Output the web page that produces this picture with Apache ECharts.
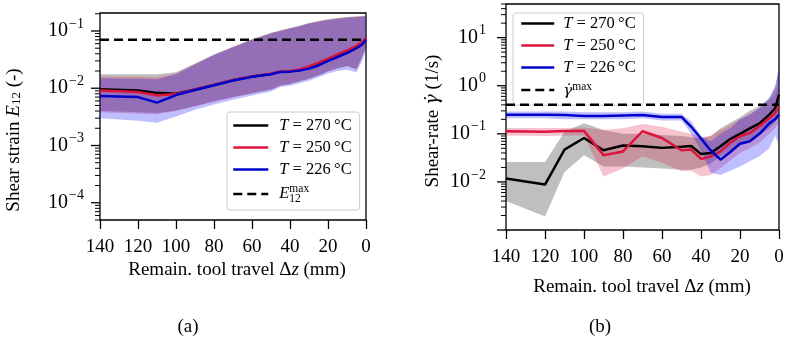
<!DOCTYPE html>
<html><head><meta charset="utf-8">
<script src="https://cdn.jsdelivr.net/npm/echarts@6/dist/echarts.min.js"></script>
<style>html,body{margin:0;padding:0;background:#fff}#c{width:789px;height:340px}</style>
</head><body><div id="c"></div>
<script>
// ---- data ----
const X = [140,120,110,100,90,80,70,60,50,45,40,35,30,25,20,15,10,5,2,0];
// (a) shear strain E12
const strainMean270 = [0.0096,0.0091,0.0083,0.0080,0.0095,0.0114,0.0138,0.0160,0.0178,0.0195,0.0197,0.0208,0.0230,0.0270,0.0320,0.0380,0.0440,0.0530,0.0620,0.0740];
const strainMean250 = [0.0091,0.0086,0.0075,0.0079,0.0095,0.0115,0.0139,0.0161,0.0180,0.0197,0.0199,0.0212,0.0240,0.0280,0.0330,0.0390,0.0460,0.0550,0.0640,0.0750];
const strainMean226 = [0.0073,0.0070,0.0056,0.0076,0.0093,0.0113,0.0136,0.0158,0.0176,0.0193,0.0195,0.0203,0.0220,0.0250,0.0300,0.0350,0.0410,0.0500,0.0580,0.0700];
const strainHi270 = [0.0176,0.0176,0.0176,0.0190,0.027,0.039,0.053,0.072,0.093,0.103,0.113,0.124,0.138,0.150,0.160,0.168,0.175,0.180,0.183,0.186];
const strainLo270 = [0.0040,0.0038,0.0037,0.0041,0.0049,0.0059,0.0070,0.0082,0.0095,0.0112,0.0119,0.0132,0.0147,0.0168,0.0198,0.0222,0.0245,0.0215,0.0360,0.0520];
const strainHi250 = [0.0160,0.0158,0.0155,0.0180,0.0265,0.0385,0.0525,0.071,0.092,0.102,0.112,0.122,0.137,0.148,0.158,0.166,0.173,0.178,0.181,0.184];
const strainLo250 = [0.0038,0.0036,0.0035,0.0040,0.0048,0.0058,0.0069,0.0081,0.0094,0.0111,0.0118,0.0131,0.0146,0.0166,0.0196,0.0221,0.0243,0.0213,0.0355,0.0510];
const strainHi226 = [0.0149,0.0147,0.0143,0.0175,0.026,0.038,0.052,0.070,0.090,0.100,0.110,0.120,0.135,0.145,0.155,0.162,0.170,0.175,0.178,0.180];
const strainLo226 = [0.0030,0.0027,0.0025,0.0032,0.0042,0.0052,0.0063,0.0075,0.0088,0.0105,0.0110,0.0122,0.0135,0.0155,0.0180,0.0200,0.0210,0.0190,0.0300,0.0450];
const strainMax = 0.07;
// (b) shear rate
const rateMean270 = [0.0118,0.0088,0.047,0.082,0.0455,0.057,0.055,0.051,0.054,0.056,0.038,0.040,0.055,0.078,0.100,0.130,0.165,0.250,0.340,0.650];
const rateLo270 = [0.0040,0.0019,0.016,0.036,0.021,0.021,0.020,0.019,0.018,0.018,0.020,0.024,0.034,0.045,0.060,0.075,0.095,0.130,0.170,0.280];
const rateHi270 = [0.026,0.026,0.110,0.165,0.120,0.100,0.100,0.095,0.090,0.085,0.080,0.090,0.130,0.170,0.220,0.300,0.380,0.550,0.900,2.200];
const rateMean250 = [0.113,0.110,0.115,0.115,0.036,0.043,0.113,0.082,0.0455,0.047,0.030,0.034,0.043,0.065,0.089,0.104,0.144,0.210,0.270,0.370];
const rateLo250 = [0.092,0.090,0.092,0.092,0.013,0.019,0.034,0.025,0.0166,0.017,0.013,0.014,0.0195,0.028,0.040,0.050,0.065,0.100,0.130,0.170];
const rateHi250 = [0.132,0.132,0.132,0.135,0.120,0.130,0.160,0.140,0.110,0.100,0.085,0.090,0.120,0.150,0.200,0.260,0.330,0.500,0.700,1.200];
const rateMean226 = [0.250,0.250,0.245,0.235,0.235,0.240,0.245,0.224,0.224,0.140,0.080,0.045,0.029,0.042,0.062,0.070,0.100,0.165,0.200,0.250];
const rateLo226 = [0.21,0.21,0.20,0.20,0.20,0.20,0.21,0.19,0.19,0.10,0.045,0.0155,0.014,0.017,0.021,0.027,0.034,0.050,0.090,0.060];
const rateHi226 = [0.29,0.29,0.29,0.28,0.28,0.28,0.29,0.26,0.26,0.18,0.09,0.07,0.10,0.13,0.20,0.25,0.35,0.55,1.00,2.50];
const rateMax = 0.4;

// ---- styling ----
const FONT = 'Liberation Serif';
const GFONT = 'DejaVu Serif';
const C270 = '#000000', C250 = '#dc143c', C226 = '#0000cd';
const F270 = 'rgba(0,0,0,0.25)', F250 = 'rgba(220,20,60,0.25)', F226 = 'rgba(0,0,255,0.25)';
const yRange = [[5e-5, 0.206], [1e-3, 50]];

function logTicks(min, max) {
  const out = [];
  for (let e = -6; e <= 3; e++) for (let m = 1; m <= 9; m++) {
    const v = m * Math.pow(10, e);
    if (v >= min * 0.999 && v <= max * 1.001) out.push([140, v, m === 1 ? 1 : 0]);
  }
  return out;
}
function band(g, lo, hi, color) {
  return {type:'custom', xAxisIndex:g, yAxisIndex:g, silent:true, clip:true, z:2,
    data:[[X[0], hi[0]]],
    renderItem:(p, api) => {
      const pts = [];
      for (let i = 0; i < X.length; i++) pts.push(api.coord([X[i], hi[i]]));
      for (let i = X.length - 1; i >= 0; i--) pts.push(api.coord([X[i], lo[i]]));
      return {type:'polygon', shape:{points:pts}, style:{fill:color}};
    }};
}
function line(name, g, ys, color) {
  return {type:'line', name, xAxisIndex:g, yAxisIndex:g, symbol:'none', z:3,
    data: X.map((x,i)=>[x, ys[i]]), lineStyle:{color, width:2.5}, itemStyle:{color}};
}
function dashed(name, g, v) {
  return {type:'line', name, xAxisIndex:g, yAxisIndex:g, symbol:'none', z:4,
    data:[[X[0], v],[X[X.length-1], v]], lineStyle:{color:'#000', width:2.5, type:[9,5]}, itemStyle:{color:'#000'}};
}
function ticks(g) {
  return {type:'custom', xAxisIndex:g, yAxisIndex:g, silent:true, clip:false, z:5,
    encode:{x:0, y:1}, data: logTicks(yRange[g][0], yRange[g][1]),
    renderItem:(p, api) => {
      const pt = api.coord([api.value(0), api.value(1)]);
      const len = api.value(2) ? 9 : 5;
      return {type:'line', shape:{x1:pt[0]-len, y1:pt[1], x2:pt[0], y2:pt[1]},
        style:{stroke:'#000', lineWidth: api.value(2) ? 1.3 : 1}};
    }};
}
function yFmt(v) {
  const l = Math.log10(v), e = Math.round(l);
  if (Math.abs(l - e) > 1e-6) return '';
  return '{b|10}{s|' + (e < 0 ? '\u2212' + (-e) : e) + '}';
}
const yRich = {
  b:{fontFamily:FONT, fontSize:20, color:'#000', lineHeight:32, verticalAlign:'middle'},
  s:{fontFamily:FONT, fontSize:14, color:'#000', lineHeight:15, padding:[2,0,0,1], verticalAlign:'top'}
};
function xAxis(g) {
  return {type:'value', gridIndex:g, inverse:true, min:0, max:140, interval:20,
    axisLine:{show:false}, splitLine:{show:false},
    axisTick:{show:true, inside:false, length:9, lineStyle:{color:'#000', width:1.3}},
    axisLabel:{fontFamily:FONT, fontSize:19, color:'#000', margin:18}};
}
function yAxis(g, margin) {
  return {type:'log', logBase:10, gridIndex:g, min:yRange[g][0], max:yRange[g][1],
    axisLine:{show:false}, splitLine:{show:false}, axisTick:{show:false}, minorTick:{show:false},
    axisLabel:{formatter:yFmt, rich:yRich, margin, showMinLabel:false, showMaxLabel:false}};
}
const LFS = 16.5;
const legRich = {
  i:{fontFamily:FONT, fontStyle:'italic', fontSize:LFS, lineHeight:18, color:'#000'},
  n:{fontFamily:FONT, fontSize:LFS, lineHeight:18, color:'#000'},
  sp:{width:6, fontSize:LFS, lineHeight:18},
  sq:{width:4, fontSize:LFS, lineHeight:18},
  I:{fontFamily:FONT, fontStyle:'italic', fontSize:LFS, lineHeight:22, verticalAlign:'middle', color:'#000'},
  G:{fontFamily:GFONT, fontStyle:'italic', fontSize:15, lineHeight:18, verticalAlign:'bottom', color:'#000'},
  sub:{fontFamily:FONT, fontSize:11.5, lineHeight:11, verticalAlign:'bottom', width:0, color:'#000'},
  sup:{fontFamily:FONT, fontSize:11.5, lineHeight:11, verticalAlign:'top', color:'#000'}
};
const legText = {
  a270:'{sp| }{i|T}{n| = 270\u2009°C}', b270:'{sq| }{i|T}{n| = 270\u2009°C}',
  a250:'{sp| }{i|T}{n| = 250\u2009°C}', b250:'{sq| }{i|T}{n| = 250\u2009°C}',
  a226:'{sp| }{i|T}{n| = 226\u2009°C}', b226:'{sq| }{i|T}{n| = 226\u2009°C}',
  aMax:'{sp| }{I|E}{sub|12}{sup|max}', bMax:'{sq| }{G|\u03b3\u0307}{sup|max}'
};
function legend(prefix, left, top, padding, w) {
  return {show:true, orient:'vertical', left, top,
    data:[prefix+'270', prefix+'250', prefix+'226', prefix+'Max'],
    padding, itemGap:5, itemWidth:w, itemHeight:14,
    itemStyle:{opacity:0},
    lineStyle:{width:2.5},
    backgroundColor:'rgba(255,255,255,0.8)', borderColor:'#cccccc', borderWidth:1, borderRadius:3,
    formatter:(n)=>legText[n], textStyle:{fontFamily:FONT, fontSize:LFS, color:'#000', rich:legRich},
    selectedMode:false};
}
const titleStyle = {fontFamily:FONT, fontSize:19, fill:'#000'};
const titleRich = {
  i:{fontFamily:FONT, fontStyle:'italic', fontSize:19, fill:'#000'},
  g:{fontFamily:GFONT, fontStyle:'italic', fontSize:18, fill:'#000'},
  sub:{fontFamily:FONT, fontSize:13, fill:'#000', verticalAlign:'bottom', lineHeight:14, padding:[12,0,0,0]}
};
function txt(text, x, y, rot) {
  return {type:'text', x, y, rotation: rot || 0, z:10,
    style:Object.assign({}, titleStyle, {text, rich:titleRich, align:'center', verticalAlign:'middle'})};
}

const chart = echarts.init(document.getElementById('c'), null, {renderer:'canvas'});
chart.setOption({
  animation:false,
  grid:[
    {left:100, top:13, width:266, height:207, show:true, borderColor:'#000', borderWidth:1.3, backgroundColor:'transparent'},
    {left:506, top:4, width:273, height:226, show:true, borderColor:'#000', borderWidth:1.3, backgroundColor:'transparent'}
  ],
  xAxis:[xAxis(0), xAxis(1)],
  yAxis:[yAxis(0, 16), yAxis(1, 20)],
  legend:[legend('a', 227, 112, [5,8,5,5], 35), legend('b', 513, 13, [2,8,6,7], 33)],
  series:[
    band(0, strainLo270, strainHi270, F270),
    band(0, strainLo250, strainHi250, F250),
    band(0, strainLo226, strainHi226, F226),
    dashed('aMax', 0, strainMax),
    line('a270', 0, strainMean270, C270),
    line('a250', 0, strainMean250, C250),
    line('a226', 0, strainMean226, C226),
    ticks(0),
    band(1, rateLo270, rateHi270, F270),
    band(1, rateLo250, rateHi250, F250),
    band(1, rateLo226, rateHi226, F226),
    dashed('bMax', 1, rateMax),
    line('b270', 1, rateMean270, C270),
    line('b250', 1, rateMean250, C250),
    line('b226', 1, rateMean226, C226),
    ticks(1)
  ],
  graphic:[
    txt('Remain. tool travel \u0394{i|z} (mm)', 237, 270),
    txt('Remain. tool travel \u0394{i|z} (mm)', 642, 287),
    txt('Shear strain {i|E}{sub|12} (-)', 14, 140, Math.PI/2),
    txt('Shear-rate {g|\u03b3\u0307} (1/s)', 433, 121, Math.PI/2),
    txt('(a)', 188, 327),
    txt('(b)', 600, 327)
  ]
});
</script></body></html>
